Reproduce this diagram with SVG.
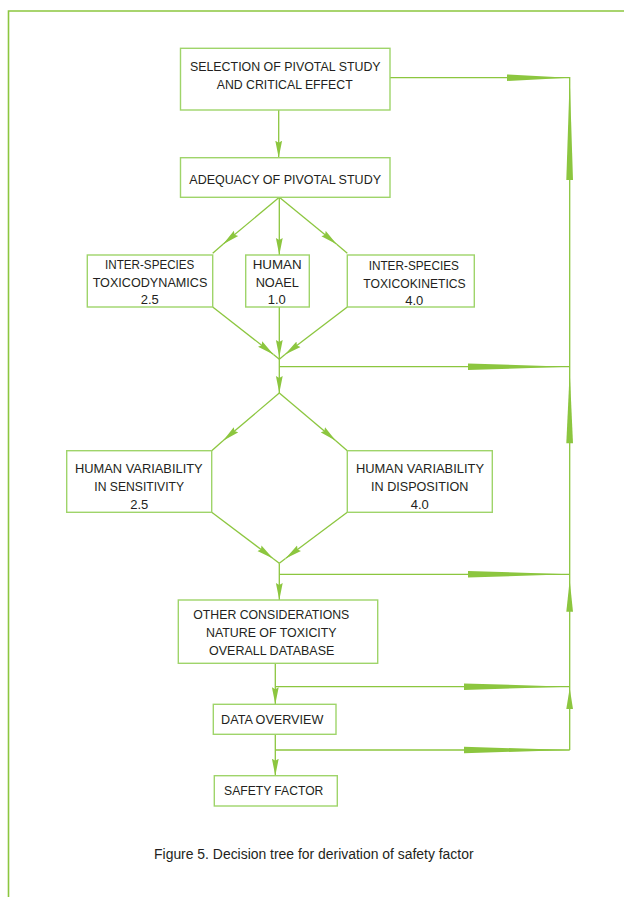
<svg xmlns="http://www.w3.org/2000/svg" width="624" height="897" viewBox="0 0 624 897">
<style>
.box{fill:#fff;stroke:#9fd46a;stroke-width:1.4}
.ln{fill:none;stroke:#8cc63f;stroke-width:1.3}
.wedge{fill:#8cc63f;stroke:none}
.frame{fill:none;stroke:#8cc63f;stroke-width:1.6}
text{font-family:"Liberation Sans",Arial,sans-serif;font-size:13px;fill:#231f20;text-anchor:middle}
.cap{font-size:14px}
</style>
<defs>
<marker id="ah" markerUnits="userSpaceOnUse" markerWidth="18" markerHeight="8" refX="17" refY="4" orient="auto">
<path d="M0,0.6 L17,4 L0,7.4 L2,4 z" fill="#8cc63f"/>
</marker>
</defs>
<rect width="624" height="897" fill="#fff"/>
<path class="frame" d="M624,11 H8.5 V897"/>

<g id="connectors">
<path class="ln" d="M278.7,110 V157.7" marker-end="url(#ah)"/>
<path class="ln" d="M390,77.7 H569.7 V750"/>
<path class="ln" d="M279.3,197.3 L223,244.3" marker-end="url(#ah)"/><path class="ln" d="M223,244.3 L212.7,253.3"/>
<path class="ln" d="M279.3,197.3 L336.7,244.3" marker-end="url(#ah)"/><path class="ln" d="M336.7,244.3 L347.3,253.3"/>
<path class="ln" d="M279.3,197.3 V255" marker-end="url(#ah)"/>
<path class="ln" d="M212.7,307 L273.5,354.5" marker-end="url(#ah)"/><path class="ln" d="M273.5,354.5 L279.3,359.3"/>
<path class="ln" d="M347.3,307 L285,354.5" marker-end="url(#ah)"/><path class="ln" d="M285,354.5 L279.3,359.3"/>
<path class="ln" d="M279.3,307 V357" marker-end="url(#ah)"/>
<path class="ln" d="M279.3,357 V393" marker-end="url(#ah)"/>
<path class="ln" d="M279.3,366.7 H569.7"/>
<path class="ln" d="M279.3,393 L223,440.8" marker-end="url(#ah)"/><path class="ln" d="M223,440.8 L211.7,450.7"/>
<path class="ln" d="M279.3,393 L335.8,440.8" marker-end="url(#ah)"/><path class="ln" d="M335.8,440.8 L347.3,450.7"/>
<path class="ln" d="M211.7,512.3 L273,558.5" marker-end="url(#ah)"/><path class="ln" d="M273,558.5 L279.3,563.3"/>
<path class="ln" d="M347.3,512.3 L285.5,558.5" marker-end="url(#ah)"/><path class="ln" d="M285.5,558.5 L279.3,563.3"/>
<path class="ln" d="M279.3,563.3 V600" marker-end="url(#ah)"/>
<path class="ln" d="M279.3,574.3 H569.7"/>
<path class="ln" d="M275.3,663.3 V704.3" marker-end="url(#ah)"/>
<path class="ln" d="M275.3,686.7 H569.7"/>
<path class="ln" d="M275.3,734.3 V775.7" marker-end="url(#ah)"/>
<path class="ln" d="M275.3,750 H569.7"/>
<polygon class="wedge" points="507,74.4 507,81 569,77.7"/>
<polygon class="wedge" points="566.3,180 573,180 569.7,77.7"/>
<polygon class="wedge" points="468,363.4 468,370 569,366.7"/>
<polygon class="wedge" points="566.3,443.3 573,443.3 569.7,371"/>
<polygon class="wedge" points="468,571 468,577.6 569,574.3"/>
<polygon class="wedge" points="566.3,611.7 573,611.7 569.7,580"/>
<polygon class="wedge" points="464,683.4 464,690 569,686.7"/>
<polygon class="wedge" points="566.3,709 573,709 569.7,688"/>
<polygon class="wedge" points="464,746.7 464,753.3 569,750"/>
</g>

<g id="selection">
<rect class="box" x="180.5" y="48.3" width="209.5" height="61.7"/>
<text x="285.3" y="71" textLength="190.7" lengthAdjust="spacingAndGlyphs">SELECTION OF PIVOTAL STUDY</text>
<text x="284.7" y="89.3" textLength="136" lengthAdjust="spacingAndGlyphs">AND CRITICAL EFFECT</text>
</g>
<g id="adequacy">
<rect class="box" x="180.5" y="157.7" width="209.5" height="39.6"/>
<text x="285.2" y="184" textLength="191.7" lengthAdjust="spacingAndGlyphs">ADEQUACY OF PIVOTAL STUDY</text>
</g>
<g id="toxicodynamics">
<rect class="box" x="87.3" y="255" width="125.4" height="52"/>
<text x="149.7" y="269" textLength="89.3" lengthAdjust="spacingAndGlyphs">INTER-SPECIES</text>
<text x="150" y="286.7" textLength="114.7" lengthAdjust="spacingAndGlyphs">TOXICODYNAMICS</text>
<text x="149.8" y="304.3">2.5</text>
</g>
<g id="noael">
<rect class="box" x="245.7" y="255" width="63.6" height="52"/>
<text x="277.2" y="269" textLength="49" lengthAdjust="spacingAndGlyphs">HUMAN</text>
<text x="277.3" y="286.7" textLength="43.3" lengthAdjust="spacingAndGlyphs">NOAEL</text>
<text x="276.7" y="304.3">1.0</text>
</g>
<g id="toxicokinetics">
<rect class="box" x="347.3" y="255" width="127" height="52"/>
<text x="413.8" y="270" textLength="90.3" lengthAdjust="spacingAndGlyphs">INTER-SPECIES</text>
<text x="414.5" y="287.7" textLength="102.3" lengthAdjust="spacingAndGlyphs">TOXICOKINETICS</text>
<text x="414.2" y="305">4.0</text>
</g>
<g id="sensitivity">
<rect class="box" x="66.7" y="450.7" width="145" height="61.6"/>
<text x="138.8" y="473.3" textLength="127.7" lengthAdjust="spacingAndGlyphs">HUMAN VARIABILITY</text>
<text x="139.2" y="491" textLength="89.7" lengthAdjust="spacingAndGlyphs">IN SENSITIVITY</text>
<text x="139.2" y="509">2.5</text>
</g>
<g id="disposition">
<rect class="box" x="347.3" y="450.7" width="145" height="61.6"/>
<text x="420" y="473.3" textLength="128" lengthAdjust="spacingAndGlyphs">HUMAN VARIABILITY</text>
<text x="419.7" y="491" textLength="97.3" lengthAdjust="spacingAndGlyphs">IN DISPOSITION</text>
<text x="419.7" y="509">4.0</text>
</g>
<g id="other">
<rect class="box" x="178.3" y="600" width="199.4" height="63.3"/>
<text x="271.3" y="619.3" textLength="156" lengthAdjust="spacingAndGlyphs">OTHER CONSIDERATIONS</text>
<text x="271.3" y="637.3" textLength="130.7" lengthAdjust="spacingAndGlyphs">NATURE OF TOXICITY</text>
<text x="271.7" y="655.3" textLength="125.3" lengthAdjust="spacingAndGlyphs">OVERALL DATABASE</text>
</g>
<g id="overview">
<rect class="box" x="213.3" y="704.3" width="122.7" height="30"/>
<text x="272.2" y="724" textLength="102.3" lengthAdjust="spacingAndGlyphs">DATA OVERVIEW</text>
</g>
<g id="safety">
<rect class="box" x="214.3" y="775.7" width="123" height="30.3"/>
<text x="273.7" y="795" textLength="99.3" lengthAdjust="spacingAndGlyphs">SAFETY FACTOR</text>
</g>
<text class="cap" x="313.8" y="859" textLength="319.5" lengthAdjust="spacingAndGlyphs">Figure 5. Decision tree for derivation of safety factor</text>
</svg>
